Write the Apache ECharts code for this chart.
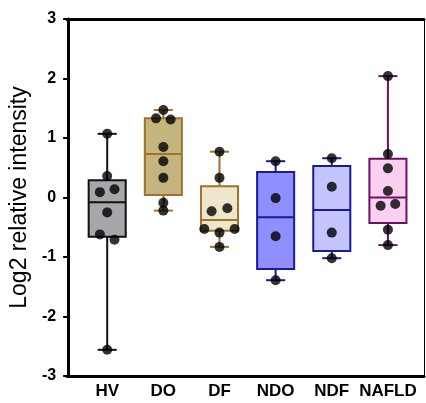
<!DOCTYPE html>
<html>
<head>
<meta charset="utf-8">
<script src="https://cdn.jsdelivr.net/npm/echarts@6/dist/echarts.min.js"></script>
<style>
  html, body { margin: 0; padding: 0; background: #fff; }
  #chart { width: 426px; height: 403px; }
</style>
</head>
<body>
<div id="chart"></div>
<script>
// groups
const groups = ['HV', 'DO', 'DF', 'NDO', 'NDF', 'NAFLD'];

// box stats: [min, q1, median, q3, max]
const boxHV = [-2.56, -0.66, -0.08, 0.29, 1.07];
const boxDO = [-0.22, 0.04, 0.73, 1.33, 1.47];
const boxDF = [-0.83, -0.56, -0.38, 0.19, 0.77];
const boxNDO = [-1.39, -1.20, -0.33, 0.43, 0.61];
const boxNDF = [-1.02, -0.90, -0.21, 0.53, 0.66];
const boxNAFLD = [-0.80, -0.43, 0.00, 0.65, 2.04];

// individual points
const ptsHV = [1.07, 0.36, 0.14, 0.09, -0.25, -0.62, -0.71, -2.56];
const ptsDO = [1.47, 1.33, 1.31, 0.85, 0.61, 0.33, -0.09, -0.22];
const ptsDF = [0.77, 0.33, -0.18, -0.23, -0.53, -0.53, -0.59, -0.83];
const ptsNDO = [0.61, -0.01, -0.65, -1.39];
const ptsNDF = [0.66, 0.18, -0.59, -1.02];
const ptsNAFLD = [2.04, 0.73, 0.49, 0.11, -0.11, -0.14, -0.54, -0.80];

// sideways spread of the dots (category units)
const jitHV = [0, 0, 0.13, -0.13, 0, -0.13, 0.13, 0];
const jitDO = [0, -0.13, 0.13, 0, 0, 0, 0, 0];
const jitDF = [0, 0, 0.14, -0.14, -0.27, 0.27, 0, 0];
const jitNDO = [0, 0, 0, 0];
const jitNDF = [0, 0, 0, 0];
const jitNAFLD = [0, 0, 0, 0, 0.13, -0.13, 0, 0];

const yTicks = [-3, -2, -1, 0, 1, 2, 3];

const boxes = [boxHV, boxDO, boxDF, boxNDO, boxNDF, boxNAFLD];
const points = [ptsHV, ptsDO, ptsDF, ptsNDO, ptsNDF, ptsNAFLD];
const jitters = [jitHV, jitDO, jitDF, jitNDO, jitNDF, jitNAFLD];

const fills = ['#a6a6ab', '#c4b47e', '#ede6ca', '#8f8fff', '#c4c4ff', '#fad0f0'];
const strokes = ['#111111', '#a0722e', '#a0722e', '#1a1a9c', '#1a1a9c', '#6e1062'];

const boxData = boxes.map((b, i) => [i].concat(b));
const dotData = [];
points.forEach((arr, i) => {
  arr.forEach((v, k) => dotData.push([i + jitters[i][k], v]));
});

const font = 'Liberation Sans, Arial, sans-serif';
const chart = echarts.init(document.getElementById('chart'));

const option = {
  backgroundColor: '#fff',
  animation: false,
  grid: [
    { left: 78, right: 10, top: 19, bottom: 27 },
    { left: 67, right: 2, top: 19, bottom: 27 }
  ],
  xAxis: [
    {
      type: 'category',
      gridIndex: 0,
      data: groups,
      axisLine: { show: false },
      axisTick: { show: true, alignWithLabel: true, length: 5, lineStyle: { color: '#000', width: 2 } },
      axisLabel: {
        interval: 0,
        color: '#000', fontWeight: 'bold', fontSize: 17,
        fontFamily: font, margin: 7
      },
      splitLine: { show: false }
    },
    {
      type: 'value',
      gridIndex: 0,
      min: -0.5,
      max: 5.5,
      show: false
    },
    {
      type: 'value',
      gridIndex: 1,
      position: 'bottom',
      min: 0, max: 1,
      axisLine: { show: true, onZero: false, lineStyle: { color: '#000', width: 3 } },
      axisTick: { show: false },
      axisLabel: { show: false },
      splitLine: { show: false }
    },
    {
      type: 'value',
      gridIndex: 1,
      position: 'top',
      min: 0, max: 1,
      axisLine: { show: true, onZero: false, lineStyle: { color: '#000', width: 3 } },
      axisTick: { show: false },
      axisLabel: { show: false },
      splitLine: { show: false }
    }
  ],
  yAxis: [
    {
      type: 'value',
      gridIndex: 0,
      min: -3,
      max: 3,
      interval: 1,
      offset: 11,
      name: 'Log2 relative intensity',
      nameLocation: 'middle',
      nameGap: 35,
      nameTextStyle: { color: '#000', fontSize: 23, fontFamily: font },
      axisLine: { show: true, onZero: false, lineStyle: { color: '#000', width: 3 } },
      axisTick: { show: true, length: 5, lineStyle: { color: '#000', width: 2 } },
      axisLabel: {
        color: '#000', fontWeight: 'bold', fontSize: 16,
        fontFamily: font, margin: 12,
        formatter: v => yTicks.includes(v) ? String(v) : ''
      },
      splitLine: { show: false }
    },
    {
      type: 'value',
      gridIndex: 1,
      position: 'right',
      min: 0, max: 1,
      axisLine: { show: true, onZero: false, lineStyle: { color: '#000', width: 1 } },
      axisTick: { show: false },
      axisLabel: { show: false },
      splitLine: { show: false }
    }
  ],
  series: [
    {
      type: 'custom',
      xAxisIndex: 0,
      yAxisIndex: 0,
      data: boxData,
      encode: { x: 0, y: [1, 2, 3, 4, 5] },
      renderItem: function (params, api) {
        const i = api.value(0);
        const pMin = api.coord([i, api.value(1)]);
        const pQ1 = api.coord([i, api.value(2)]);
        const pMed = api.coord([i, api.value(3)]);
        const pQ3 = api.coord([i, api.value(4)]);
        const pMax = api.coord([i, api.value(5)]);
        const band = api.size([1, 0])[0];
        const hw = band * 0.33;
        const cw = band * 0.17;
        const x = pMed[0];
        const stroke = strokes[i];
        const ls = { stroke: stroke, lineWidth: 2 };
        return {
          type: 'group',
          children: [
            { type: 'line', shape: { x1: x, y1: pMax[1], x2: x, y2: pQ3[1] }, style: ls },
            { type: 'line', shape: { x1: x, y1: pQ1[1], x2: x, y2: pMin[1] }, style: ls },
            { type: 'line', shape: { x1: x - cw, y1: pMax[1], x2: x + cw, y2: pMax[1] }, style: ls },
            { type: 'line', shape: { x1: x - cw, y1: pMin[1], x2: x + cw, y2: pMin[1] }, style: ls },
            {
              type: 'rect',
              shape: { x: x - hw, y: pQ3[1], width: hw * 2, height: pQ1[1] - pQ3[1] },
              style: { fill: fills[i], stroke: stroke, lineWidth: 2 }
            },
            { type: 'line', shape: { x1: x - hw, y1: pMed[1], x2: x + hw, y2: pMed[1] }, style: ls }
          ]
        };
      },
      z: 2
    },
    {
      type: 'scatter',
      xAxisIndex: 1,
      yAxisIndex: 0,
      data: dotData,
      symbol: 'circle',
      symbolSize: 10,
      itemStyle: { color: '#000' },
      z: 5
    }
  ]
};

chart.setOption(option);
</script>
</body>
</html>
